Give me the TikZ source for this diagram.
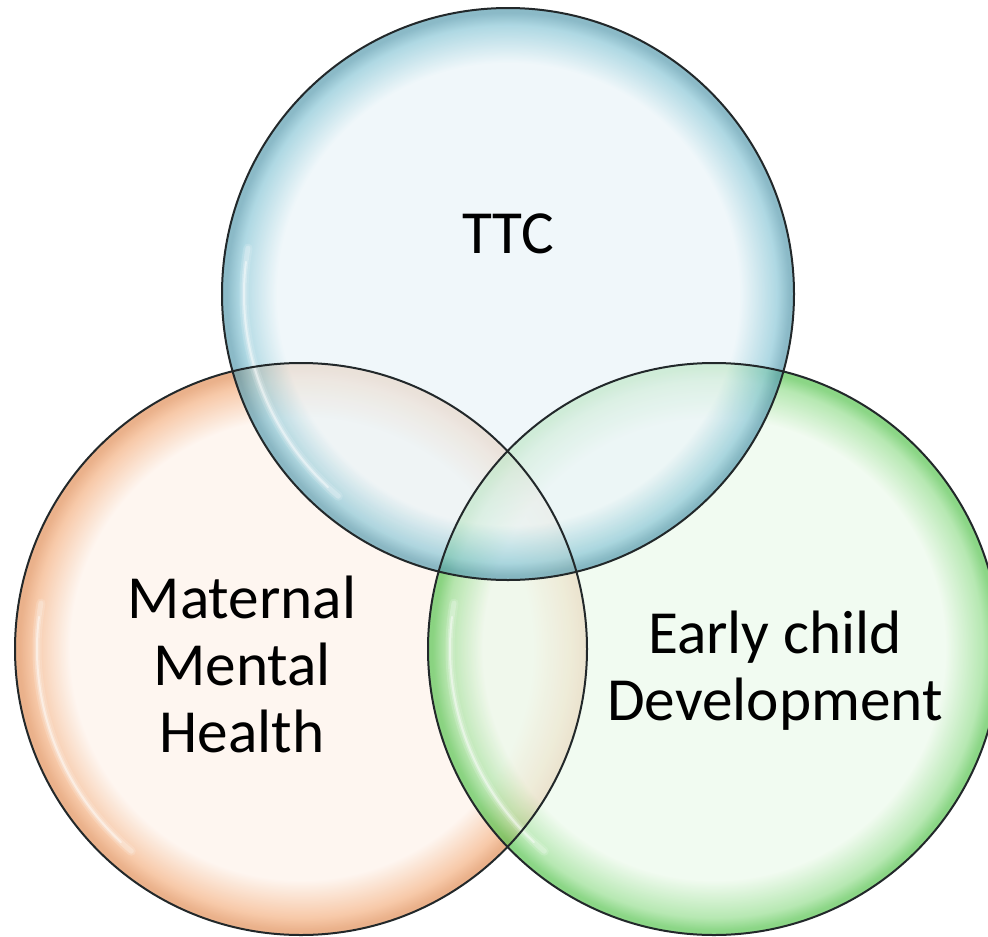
\documentclass[tikz,border=0pt]{standalone}
\usepackage{fontspec}
\setmainfont{Carlito}
\usetikzlibrary{calc}

\definecolor{bluein}{HTML}{EAF4F8}
\definecolor{blueedge}{HTML}{8FC9D8}
\definecolor{bluerim}{HTML}{5E9FB2}
\definecolor{orangein}{HTML}{FDF2EA}
\definecolor{orangeedge}{HTML}{F4B487}
\definecolor{orangerim}{HTML}{E2935E}
\definecolor{greenin}{HTML}{ECF9EB}
\definecolor{greenedge}{HTML}{9ADF94}
\definecolor{greenrim}{HTML}{5EC657}
\definecolor{outline}{HTML}{22282A}

% Glossy disc: flat light interior, coloured band towards the rim
\pgfdeclareradialshading{blueball}{\pgfpoint{0bp}{0bp}}{%
  color(0bp)=(bluein); color(20.2bp)=(bluein); color(23.5bp)=(blueedge);
  color(24.6bp)=(bluerim); color(25bp)=(bluerim)}
\pgfdeclareradialshading{orangeball}{\pgfpoint{0bp}{0bp}}{%
  color(0bp)=(orangein); color(20.2bp)=(orangein); color(23.5bp)=(orangeedge);
  color(24.6bp)=(orangerim); color(25bp)=(orangerim)}
\pgfdeclareradialshading{greenball}{\pgfpoint{0bp}{0bp}}{%
  color(0bp)=(greenin); color(20.2bp)=(greenin); color(23.5bp)=(greenedge);
  color(24.6bp)=(greenrim); color(25bp)=(greenrim)}

\tikzset{
  disc/.style={fill opacity=0.72},
  rimline/.style={draw=outline, line width=2bp},
  gloss/.style={draw=white, line cap=round},
  label/.style={font=\fontsize{61.5}{67}\selectfont, align=center, text=black,
                inner sep=0pt}
}

% soft white highlight along the inner rim of a disc
\newcommand{\softgloss}[1]{%
  \draw[gloss, line width=9bp, opacity=0.15] ($(#1)+(130:264)$) arc[start angle=130, end angle=190, radius=264];
  \draw[gloss, line width=5bp, opacity=0.25] ($(#1)+(130:264)$) arc[start angle=130, end angle=190, radius=264];
  \draw[gloss, line width=2bp, opacity=0.45] ($(#1)+(133:264)$) arc[start angle=133, end angle=187, radius=264];
}

\begin{document}
\begin{tikzpicture}[x=1bp, y=-1bp]
  \useasboundingbox (0,0) rectangle (988,937);

  % circle centres
  \coordinate (cT) at (508,294);
  \coordinate (cL) at (301,649);
  \coordinate (cR) at (714,649);

  % shaded discs
  \begin{scope}
    \clip (0,0) rectangle (988,937);
    \shade[disc, shading=orangeball] (cL) circle[radius=286];
    \shade[disc, shading=greenball] (cR) circle[radius=286];
    \shade[disc, shading=blueball] (cT) circle[radius=286];

    % highlights inside the rims
    \softgloss{cL}
    \softgloss{cR}
    \softgloss{cT}

    % outlines
    \draw[rimline] (cL) circle[radius=286];
    \draw[rimline] (cR) circle[radius=286];
    \draw[rimline] (cT) circle[radius=286];
  \end{scope}

  % labels (base anchor sits on the last line)
  \node[label, anchor=base] (ttc) at (508,253) {TTC};
  \node[label, anchor=base] (mmh) at (242,752) {Maternal\\Mental\\Health};
  \node[label, anchor=base] (ecd) at (775,720) {Early child\\Development};
\end{tikzpicture}
\end{document}
